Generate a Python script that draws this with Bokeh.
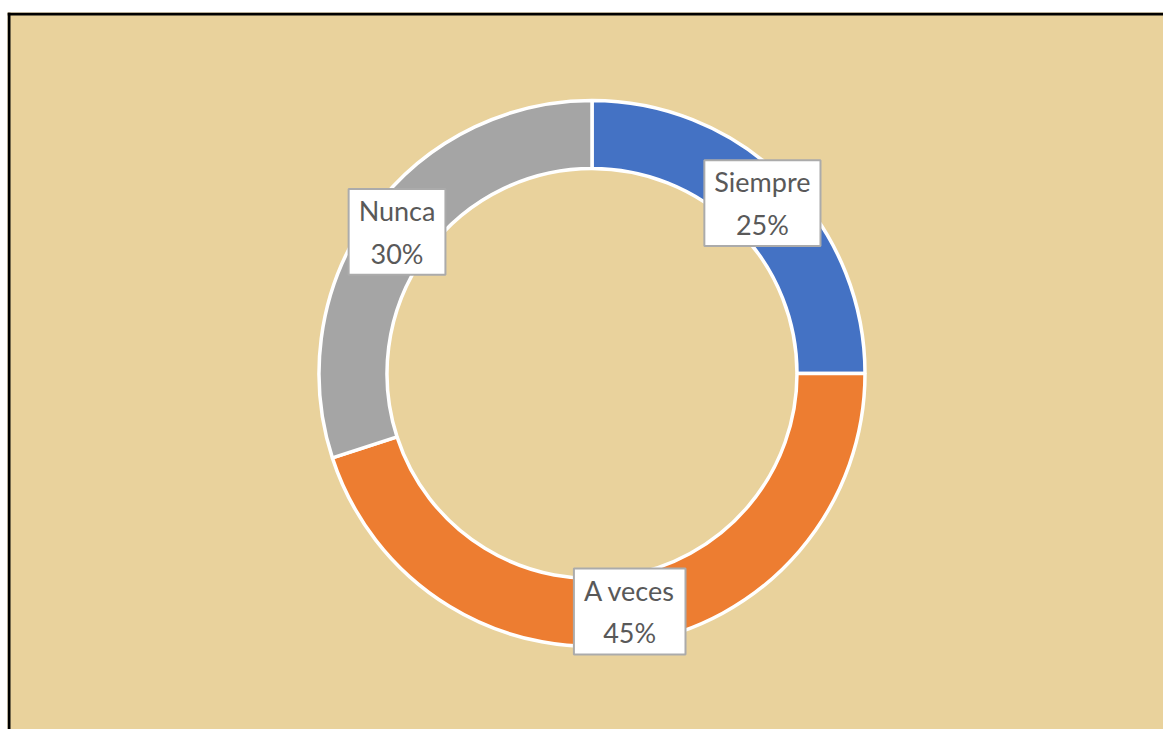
import math
from bokeh.plotting import figure
from bokeh.models import Range1d, Label, ColumnDataSource
from bokeh.embed import file_html
from bokeh.resources import INLINE

# Data
categories = ["Siempre", "A veces", "Nunca"]
values = [25, 45, 30]
colors = ["#4472C4", "#ED7D31", "#A5A5A5"]

W, H = 1163, 729
TOP_PAD = 12
LEFT_PAD = 7
FW = W - LEFT_PAD
FH = H - TOP_PAD

p = figure(width=W, height=H, output_backend="svg", toolbar_location=None,
           x_range=Range1d(0, FW), y_range=Range1d(0, FH),
           min_border_left=LEFT_PAD, min_border_right=0, min_border_bottom=0,
           min_border_top=TOP_PAD)
p.axis.visible = False
p.grid.visible = False
p.outline_line_color = None
p.border_fill_color = "white"
p.background_fill_color = "#E9D29C"

# frame border (top and left only, the rest is cropped)
p.quad(left=[0], right=[FW], top=[FH], bottom=[FH - 3], color="black", line_color=None)
p.quad(left=[0], right=[3], top=[FH], bottom=[0], color="black", line_color=None)

cx, cy = 584.5, 356
r_out, r_in = 273, 205

total = sum(values)
starts, ends, mids = [], [], []
cum = 0
for v in values:
    a0 = math.pi / 2 - 2 * math.pi * cum / total
    cum += v
    a1 = math.pi / 2 - 2 * math.pi * cum / total
    starts.append(a0)
    ends.append(a1)
    mids.append((a0 + a1) / 2)

src = ColumnDataSource(dict(x=[cx] * len(values), y=[cy] * len(values),
                            start=starts, end=ends, color=colors))
p.annular_wedge(x="x", y="y", inner_radius=r_in, outer_radius=r_out,
                start_angle="start", end_angle="end", direction="clock",
                fill_color="color", line_color="white", line_width=3.5, source=src)

r_lab = (r_out + r_in) / 2 + 2
for cat, v, m in zip(categories, values, mids):
    lx = cx + r_lab * math.cos(m)
    ly = cy + r_lab * math.sin(m)
    lab = Label(x=lx, y=ly, text=f"{cat}\n{v}%", text_align="center",
                text_baseline="middle", text_font="Lato", text_font_size="27px",
                text_color="#595959", text_line_height=1.3,
                background_fill_color="white", background_fill_alpha=1.0,
                border_line_color="#ABABAB", border_line_width=2,
                padding=dict(left=10, right=10, top=5, bottom=5))
    p.add_layout(lab)

open("out.html", "w").write(file_html(p, INLINE))
